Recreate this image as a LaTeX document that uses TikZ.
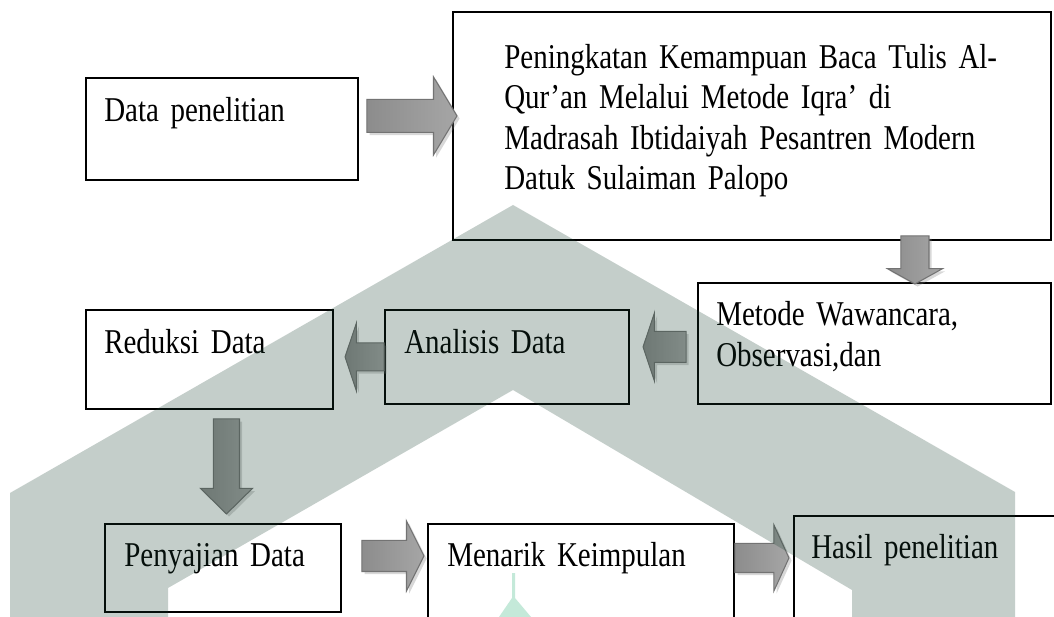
\documentclass[tikz,border=0pt]{standalone}
\usepackage{fontspec}
\setmainfont{Liberation Serif}[FakeStretch=0.833, WordSpace=0.8]
\usetikzlibrary{shapes.arrows,shadows}
\newcommand{\upx}{0.02cm}
\definecolor{tanda}{RGB}{23,63,47}
\definecolor{menara}{RGB}{196,233,217}
\tikzset{
  kotak/.style={draw=black, line width=1.2pt, inner sep=0pt},
  teks/.style={inner sep=0pt, anchor=base west, text width=#1,
    font=\fontsize{19.8}{22.8}\selectfont},
  teks/.default={14cm},
  panah/.style={single arrow, draw=black!55, line width=0.6pt,
    left color=black!45, middle color=black!10, right color=black!35,
    inner xsep=0pt, minimum width=0pt, outer sep=0pt, anchor=tip,
    drop shadow={shadow xshift=1.5pt, shadow yshift=-1.5pt, opacity=0.3}}
}
\begin{document}
\begin{tikzpicture}[x=0.02cm,y=-0.02cm]
  \useasboundingbox (0,0) rectangle (1054,617);
  \clip (0,0) rectangle (1054,617);
  \fill[white] (0,0) rectangle (1054,617);
  % kotak-kotak
  \node[kotak, minimum width=272*\upx, minimum height=102*\upx] (data) at (222,129) {};
  \node[kotak, minimum width=598*\upx, minimum height=228*\upx] (judul) at (752,126) {};
  \node[kotak, minimum width=353*\upx, minimum height=121*\upx] (metode) at (874.5,343.5) {};
  \node[kotak, minimum width=244*\upx, minimum height=94*\upx] (analisis) at (507,357) {};
  \node[kotak, minimum width=247*\upx, minimum height=99*\upx] (reduksi) at (209.5,359.5) {};
  \node[kotak, minimum width=236*\upx, minimum height=88*\upx] (penyajian) at (223,568) {};
  \node[kotak, minimum width=306*\upx, minimum height=116*\upx] (menarik) at (581,582) {};
  \node[kotak, minimum width=276*\upx, minimum height=124*\upx] (hasil) at (932,578) {};
  % teks
  \node[teks] (tdata) at ([shift={(19,45)}]data.north west) {Data penelitian};
  \node[teks] (tjudul) at ([shift={(52,58)}]judul.north west)
    {Peningkatan Kemampuan Baca Tulis Al-\\Qur’an Melalui Metode Iqra’ di\\
     Madrasah Ibtidaiyah Pesantren Modern\\Datuk Sulaiman Palopo};
  \node[teks] (tmetode) at ([shift={(19,44)}]metode.north west)
    {Metode Wawancara,\\Observasi,dan};
  \node[teks] (tanalisis) at ([shift={(20,45)}]analisis.north west) {Analisis Data};
  \node[teks] (treduksi) at ([shift={(19,45)}]reduksi.north west) {Reduksi Data};
  \node[teks] (tpenyajian) at ([shift={(20,44)}]penyajian.north west) {Penyajian Data};
  \node[teks] (tmenarik) at ([shift={(20,44)}]menarik.north west) {Menarik Keimpulan};
  \node[teks] (thasil) at ([shift={(18,44)}]hasil.north west) {Hasil penelitian};
  % panah blok
  \node[panah, minimum height=90*\upx, inner ysep=16*\upx,
    single arrow head extend=22.5*\upx, single arrow tip angle=118]
    (p1) at ([shift={(5,105)}]judul.north west) {};
  \node[panah, rotate=-90, minimum height=48*\upx, inner ysep=13.5*\upx,
    single arrow head extend=13.5*\upx, single arrow tip angle=122]
    (p2) at ([shift={(218,2)}]metode.north west) {};
  \node[panah, rotate=180, minimum height=43*\upx, inner ysep=15*\upx,
    single arrow head extend=18.5*\upx, single arrow tip angle=143]
    (p3) at ([shift={(13,38)}]analisis.north east) {};
  \node[panah, rotate=180, minimum height=39*\upx, inner ysep=13.5*\upx,
    single arrow head extend=19.5*\upx, single arrow tip angle=143]
    (p4) at ([shift={(11,48)}]reduksi.north east) {};
  \node[panah, rotate=-90, minimum height=95*\upx, inner ysep=12.5*\upx,
    single arrow head extend=13*\upx, single arrow tip angle=91]
    (p5) at ([shift={(122.5,-9)}]penyajian.north west) {};
  \node[panah, minimum height=62*\upx, inner ysep=15*\upx,
    single arrow head extend=19.5*\upx, single arrow tip angle=127]
    (p6) at ([shift={(-3,33)}]menarik.north west) {};
  \node[panah, minimum height=54*\upx, inner ysep=14*\upx,
    single arrow head extend=18.5*\upx, single arrow tip angle=131]
    (p7) at ([shift={(-4,43)}]hasil.north west) {};
  % latar tanda air
  \fill[menara] (512,573) -- (515,573) -- (515,598) -- (531,617)
    -- (499,617) -- (512,598) -- cycle;
  \fill[tanda, fill opacity=0.25] (10,617) -- (10,493) -- (513,205)
    -- (1015,492) -- (1015,617) -- (852,617) -- (852,590) -- (513,390)
    -- (168,588) -- (168,617) -- cycle;
\end{tikzpicture}
\end{document}
